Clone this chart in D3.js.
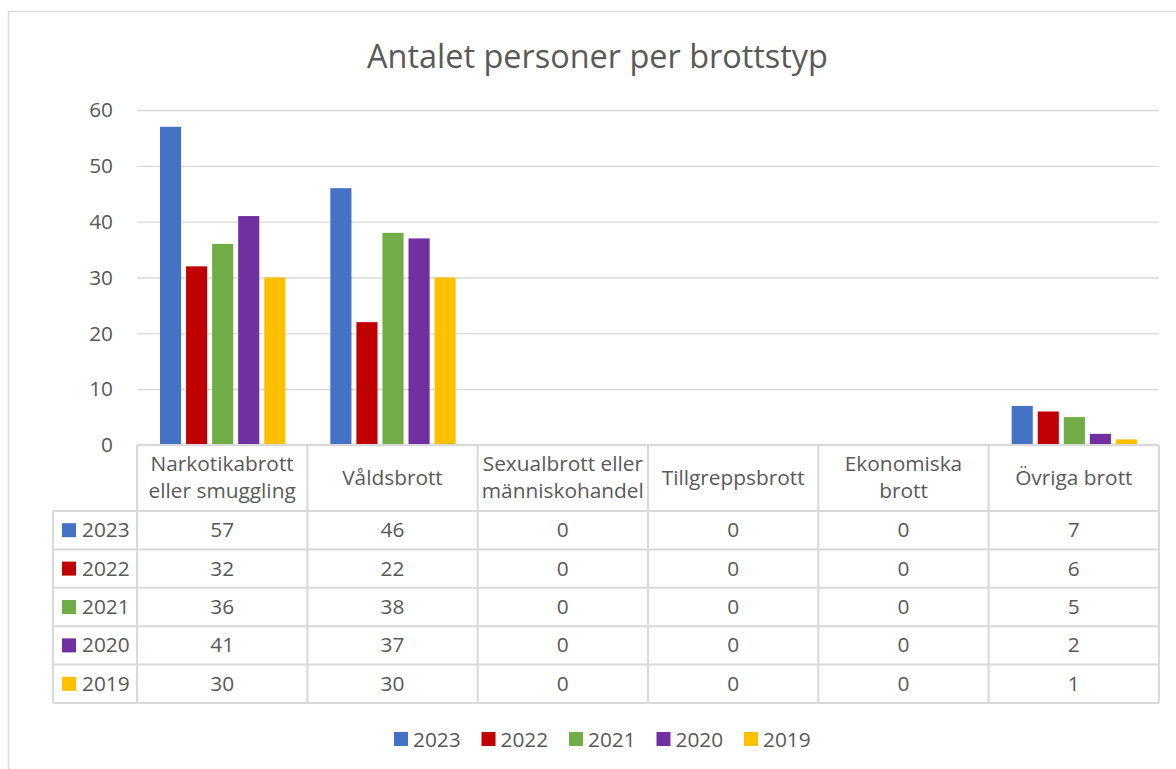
<!DOCTYPE html>
<html><head><meta charset="utf-8">
<script src="https://cdn.jsdelivr.net/npm/d3@7"></script>
<style>
html,body{margin:0;padding:0;background:#fff;}
svg{display:block;font-family:"Open Sans", sans-serif;}
</style></head>
<body>
<svg id="c" width="1176" height="769"></svg>
<script>
const title = "Antalet personer per brottstyp";
const categories = [["Narkotikabrott","eller smuggling"],["Våldsbrott"],["Sexualbrott eller","människohandel"],["Tillgreppsbrott"],["Ekonomiska","brott"],["Övriga brott"]];
const years = ["2023","2022","2021","2020","2019"];
const colors = ["#4472C4","#C00000","#70AD47","#7030A0","#FFC000"];
const v2023 = [57,46,0,0,0,7];
const v2022 = [32,22,0,0,0,6];
const v2021 = [36,38,0,0,0,5];
const v2020 = [41,37,0,0,0,2];
const v2019 = [30,30,0,0,0,1];
const series = [v2023,v2022,v2021,v2020,v2019];
const yTicks = [0,10,20,30,40,50,60];

const svg = d3.select("#c");
const txt = "#595959", line = "#d9d9d9";
const L = 137, R = 1159, T = 110, B = 445;
const tableLeft = 53, headerBottom = 511, rowH = 38.4;

function fitSize(str, target){
  const t = svg.append("text").style("font-size","20px").text(str);
  const w = t.node().getComputedTextLength();
  t.remove();
  return 20*target/w;
}
const bodySize = fitSize("Tillgreppsbrott", 143);
const titleSize = fitSize(title, 461);

// frame
svg.append("line").attr("x1",8).attr("x2",1176).attr("y1",11.5).attr("y2",11.5).attr("stroke",line).attr("stroke-width",1.5);
svg.append("line").attr("x1",8.5).attr("x2",8.5).attr("y1",11).attr("y2",769).attr("stroke",line).attr("stroke-width",1.5);

svg.append("text").attr("x",597.5).attr("y",68).attr("text-anchor","middle")
  .attr("fill",txt).style("font-size",titleSize+"px").text(title);

const catIdx = d3.range(categories.length);
const x0 = d3.scaleBand().domain(catIdx).range([L,R]);
const x1 = d3.scaleBand().domain(years).range([23, x0.bandwidth()-22]).paddingInner(0.19);
const y = d3.scaleLinear().domain([0,60]).range([B,T]);

// grid
const yAxis = d3.axisLeft(y).tickValues(yTicks).tickSize(-(R-L)).tickPadding(24);
const ga = svg.append("g").attr("transform",`translate(${L},0)`).call(yAxis);
ga.select(".domain").remove();
ga.selectAll(".tick line").attr("stroke",line).attr("stroke-width",1.3);
ga.selectAll(".tick text").attr("fill",txt).style("font-size",bodySize+"px").style("font-family","'Open Sans', sans-serif");

// bars
series.forEach((vals,si)=>{
  svg.append("g").selectAll("rect").data(vals).join("rect")
    .attr("x",(d,i)=>x0(i)+x1(years[si]))
    .attr("width",x1.bandwidth())
    .attr("y",d=>y(d))
    .attr("height",d=>B-y(d))
    .attr("fill",colors[si]);
});

// table
const tb = svg.append("g");
const rowsBottom = headerBottom + rowH*years.length;
tb.append("line").attr("x1",L).attr("x2",R).attr("y1",B).attr("y2",B).attr("stroke",line).attr("stroke-width",2);
for(let r=0;r<=years.length;r++){
  const yy = headerBottom + rowH*r;
  tb.append("line").attr("x1",tableLeft).attr("x2",R).attr("y1",yy).attr("y2",yy).attr("stroke",line).attr("stroke-width",2);
}
tb.append("line").attr("x1",tableLeft).attr("x2",tableLeft).attr("y1",headerBottom).attr("y2",rowsBottom).attr("stroke",line).attr("stroke-width",2);
catIdx.concat([categories.length]).forEach(i=>{
  const xx = i<categories.length ? x0(i) : R;
  tb.append("line").attr("x1",xx).attr("x2",xx).attr("y1",B).attr("y2",rowsBottom).attr("stroke",line).attr("stroke-width",2);
});
categories.forEach((lines,i)=>{
  const cx = x0(i)+x0.bandwidth()/2;
  const startY = lines.length===2 ? 471 : 485;
  lines.forEach((ln,k)=>{
    tb.append("text").attr("text-anchor","middle").attr("fill",txt).style("font-size",bodySize+"px")
      .attr("x",cx).attr("y",startY+k*27).text(ln);
  });
});
years.forEach((yr,r)=>{
  const cy = headerBottom + rowH*r + rowH/2;
  tb.append("rect").attr("x",62).attr("y",cy-7).attr("width",14).attr("height",14).attr("fill",colors[r]);
  tb.append("text").attr("x",82).attr("y",cy+7).attr("fill",txt).style("font-size",bodySize+"px").text(yr);
  series[r].forEach((v,i)=>{
    tb.append("text").attr("x",x0(i)+x0.bandwidth()/2).attr("y",cy+7).attr("text-anchor","middle")
      .attr("fill",txt).style("font-size",bodySize+"px").text(v);
  });
});

// legend
const lg = svg.append("g");
const lx = d3.scalePoint().domain(years).range([394,744]);
years.forEach((yr,i)=>{
  lg.append("rect").attr("x",lx(yr)).attr("y",732).attr("width",14).attr("height",14).attr("fill",colors[i]);
  lg.append("text").attr("x",lx(yr)+19).attr("y",747).attr("fill",txt).style("font-size",bodySize+"px").text(yr);
});
</script>
</body></html>
